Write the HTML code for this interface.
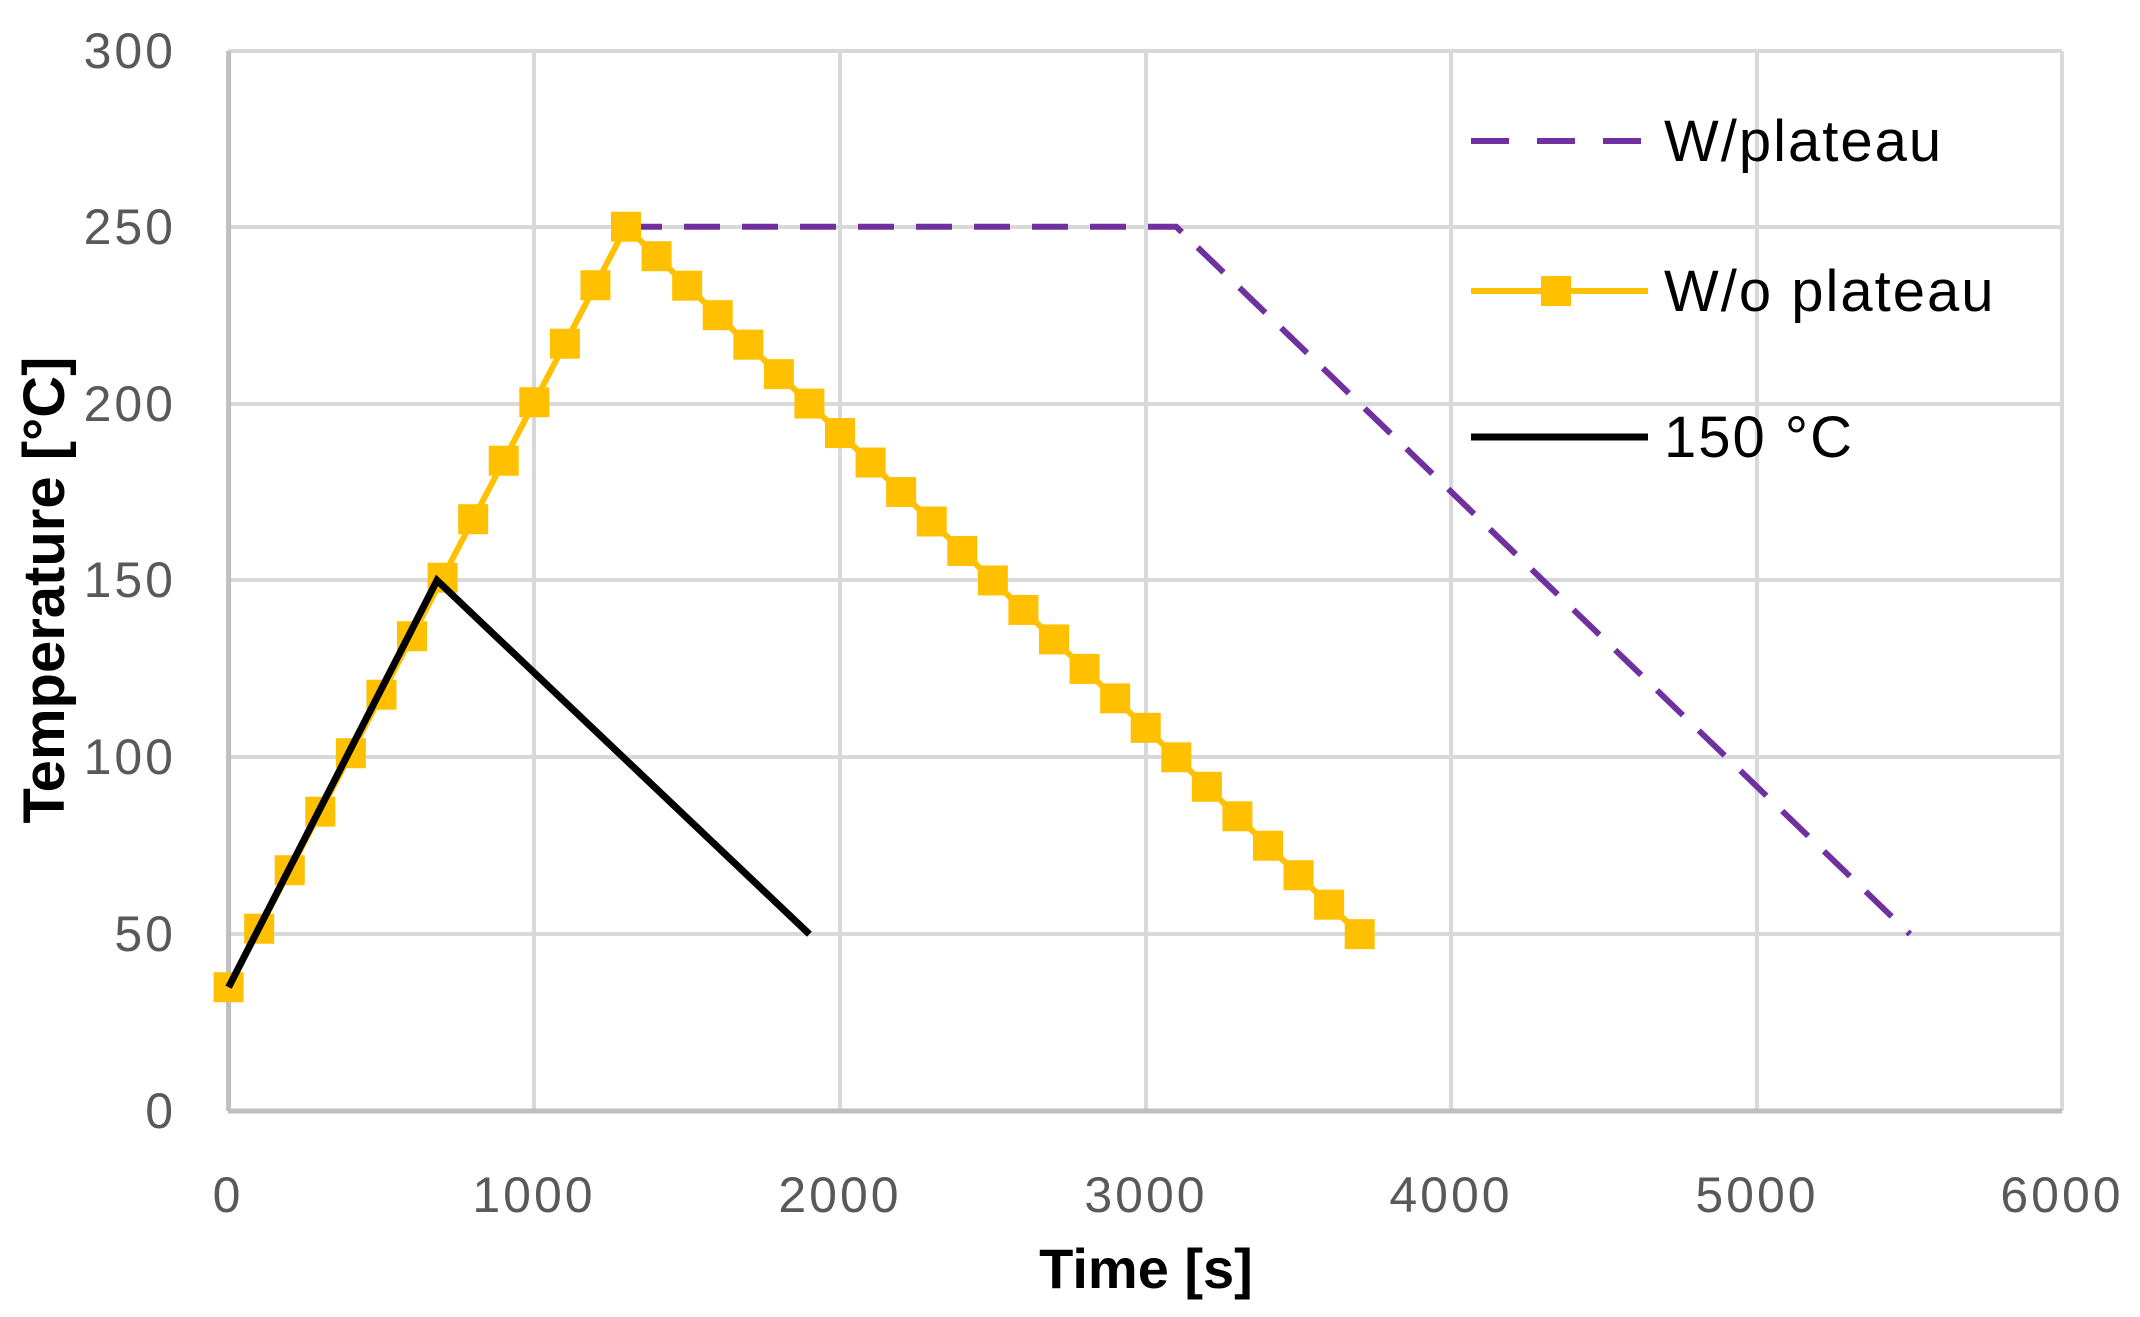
<!DOCTYPE html>
<html><head><meta charset="utf-8"><style>
html,body{margin:0;padding:0;background:#fff;}
svg{display:block;}
text{font-family:"Liberation Sans",sans-serif;}
</style></head><body>
<svg id="s" width="2140" height="1317" viewBox="0 0 2140 1317" xmlns="http://www.w3.org/2000/svg">
<g stroke="#D9D9D9" stroke-width="4">
<line x1="228" y1="51" x2="2062" y2="51"/>
<line x1="228" y1="227" x2="2062" y2="227"/>
<line x1="228" y1="404" x2="2062" y2="404"/>
<line x1="228" y1="580" x2="2062" y2="580"/>
<line x1="228" y1="757" x2="2062" y2="757"/>
<line x1="228" y1="934" x2="2062" y2="934"/>
<line x1="534" y1="51" x2="534" y2="1111"/>
<line x1="840" y1="51" x2="840" y2="1111"/>
<line x1="1146" y1="51" x2="1146" y2="1111"/>
<line x1="1451" y1="51" x2="1451" y2="1111"/>
<line x1="1757" y1="51" x2="1757" y2="1111"/>
<line x1="2062" y1="51" x2="2062" y2="1111"/>
</g>
<g stroke="#BFBFBF" stroke-width="5">
<line x1="228.6" y1="51" x2="228.6" y2="1111"/>
<line x1="228" y1="1111" x2="2062" y2="1111"/>
</g>
<g fill="#595959" font-size="50" text-anchor="end" letter-spacing="3">
<text x="176" y="68">300</text>
<text x="176" y="244">250</text>
<text x="176" y="421">200</text>
<text x="176" y="597">150</text>
<text x="176" y="774">100</text>
<text x="176" y="951">50</text>
<text x="176" y="1128">0</text>
</g>
<g fill="#595959" font-size="50" text-anchor="middle" letter-spacing="3">
<text x="228" y="1212">0</text>
<text x="534" y="1212">1000</text>
<text x="840" y="1212">2000</text>
<text x="1146" y="1212">3000</text>
<text x="1451" y="1212">4000</text>
<text x="1757" y="1212">5000</text>
<text x="2062" y="1212">6000</text>
</g>
<text x="1146" y="1288" font-size="56" font-weight="bold" text-anchor="middle" fill="#000">Time [s]</text>
<text transform="translate(64,590) rotate(-90)" font-size="58" font-weight="bold" text-anchor="middle" fill="#000">Temperature [°C]</text>
<polyline points="626,226.8 1176.3,226.8 1910,934.2" fill="none" stroke="#7030A0" stroke-width="6" stroke-dasharray="36,22"/>
<polyline points="228.6,987.2 626,226.8 1359.7,934.2" fill="none" stroke="#FFC000" stroke-width="6"/>
<g id="mk" fill="#FFC000"></g>
<polyline points="228.6,987.2 437,580.4 809.4,934.2" fill="none" stroke="#000" stroke-width="7"/>
<line x1="1471" y1="141" x2="1648" y2="141" stroke="#7030A0" stroke-width="6" stroke-dasharray="38,28"/>
<line x1="1471" y1="291" x2="1648" y2="291" stroke="#FFC000" stroke-width="6"/>
<rect x="1541" y="276" width="30" height="30" fill="#FFC000"/>
<line x1="1471" y1="437" x2="1648" y2="437" stroke="#000" stroke-width="7"/>
<g fill="#000" font-size="58" letter-spacing="2">
<text x="1664" y="161">W/plateau</text>
<text x="1664" y="311">W/o plateau</text>
<text x="1664" y="457">150 °C</text>
</g>
</svg>
<script>
(function(){var g=document.getElementById('mk'),h='';
for(var t=0;t<=3700;t+=100){var v=t<=1300?35+t*215/1300:250-(t-1300)*200/2400;
var x=228.6+t*0.3057,y=1111-v*3.537;
h+='<rect x="'+(x-15)+'" y="'+(y-15)+'" width="30" height="30"/>';}
g.innerHTML=h;})();
</script>
</body></html>
